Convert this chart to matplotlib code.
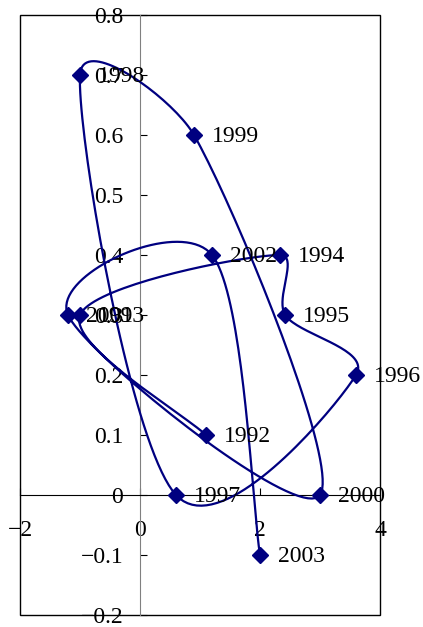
import numpy as np
import matplotlib
matplotlib.use('Agg')
import matplotlib.pyplot as plt
from matplotlib.patches import Rectangle

years = ['1992', '1993', '1994', '1995', '1996', '1997', '1998',
         '1999', '2000', '2001', '2002', '2003']
xs = [1.1, -1.0, 2.33, 2.42, 3.6, 0.6, -1.0, 0.9, 3.0, -1.2, 1.2, 2.0]
ys = [0.1, 0.3, 0.4, 0.3, 0.2, 0.0, 0.7, 0.6, 0.0, 0.3, 0.4, -0.1]

x_ticks = [-2, 0, 2, 4]
y_ticks = [-0.2, -0.1, 0.0, 0.1, 0.2, 0.3, 0.4, 0.5, 0.6, 0.7, 0.8]

navy = '#000080'
plt.rcParams['font.family'] = ['Liberation Serif', 'DejaVu Serif']


def smooth(px, py, n=40, k=1 / 6.0, cap=0.33):
    # bezier through every point; handle length follows the neighbours
    # but is capped against the segment it belongs to
    pts = np.column_stack([px, py])

    def arm(v, seg):
        lv = np.hypot(*v)
        lim = cap * seg
        return v if lv <= lim or lv == 0 else v * lim / lv

    out = [pts[0]]
    for i in range(len(pts) - 1):
        p0 = pts[max(i - 1, 0)]
        p1 = pts[i]
        p2 = pts[i + 1]
        p3 = pts[min(i + 2, len(pts) - 1)]
        seg = np.hypot(*(p2 - p1))
        c1 = p1 + arm((p2 - p0) * k, seg)
        c2 = p2 - arm((p3 - p1) * k, seg)
        t = np.linspace(0, 1, n)[1:, None]
        out.extend((1 - t) ** 3 * p1 + 3 * (1 - t) ** 2 * t * c1
                   + 3 * (1 - t) * t ** 2 * c2 + t ** 3 * p2)
    return np.array(out)


def fmt_y(v, pos):
    if abs(v) < 1e-9:
        return '0'
    return ('%.1f' % v).replace('-', '\u2212')


fig = plt.figure(figsize=(4.23, 6.27), dpi=100)
ax = fig.add_axes([20 / 423, 12 / 627, 360 / 423, 600 / 627])
ax.set_xlim(-2, 4)
ax.set_ylim(-0.2, 0.8)

# spline is built in display space so the curvature follows the drawn aspect
fig.canvas.draw()
disp = ax.transData.transform(np.column_stack([xs, ys]))
curve = smooth(disp[:, 0], disp[:, 1])
curve = ax.transData.inverted().transform(curve)
ax.plot(curve[:, 0], curve[:, 1], color=navy, lw=1.6, zorder=3)
ax.plot(xs, ys, 'D', color=navy, ms=8, zorder=4)

for x, y, lab in zip(xs, ys, years):
    ax.annotate(lab, (x, y), xytext=(13, -1), textcoords='offset points',
                va='center', ha='left', fontsize=17, color='black', zorder=5)

# axes cross at zero, plot area keeps an outer frame
ax.spines['left'].set_position(('data', 0))
ax.spines['bottom'].set_position(('data', 0))
ax.spines['left'].set_color('#808080')
ax.spines['bottom'].set_color('black')
ax.spines['top'].set_visible(False)
ax.spines['right'].set_visible(False)
ax.add_patch(Rectangle((0, 0), 1, 1, transform=ax.transAxes, fill=False,
                       lw=1.0, edgecolor='black', clip_on=False, zorder=1))

ax.set_xticks(x_ticks)
ax.set_yticks(y_ticks)
ax.yaxis.set_major_formatter(plt.FuncFormatter(fmt_y))
ax.tick_params(axis='y', direction='in', length=5, pad=12, labelsize=17,
               color='black')
ax.tick_params(axis='x', direction='in', length=5, pad=18, labelsize=17,
               color='black')
for lbl in ax.get_xticklabels() + ax.get_yticklabels():
    lbl.set_clip_on(False)

fig.savefig('out.png', dpi=100)
